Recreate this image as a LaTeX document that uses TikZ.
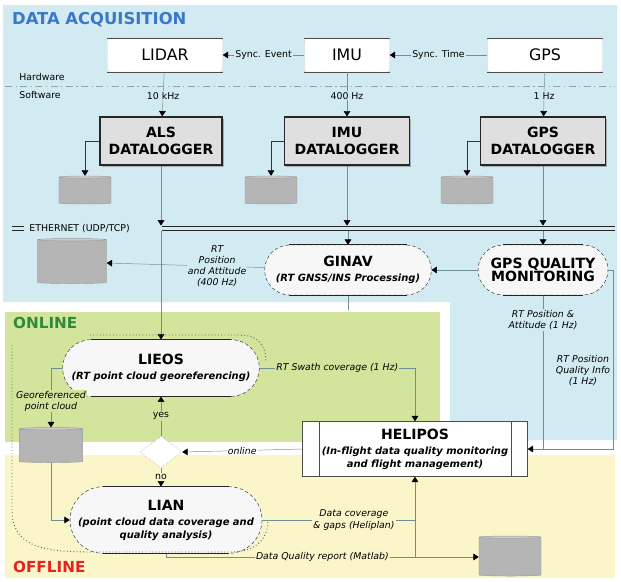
\documentclass[tikz,border=0pt]{standalone}
\usepackage{fontspec}
\setmainfont{DejaVu Sans}
\usepackage{tikz}
\usetikzlibrary{shapes.geometric, arrows.meta, positioning, shadows}

\definecolor{acqblue}{HTML}{D2EBF2}
\definecolor{onlgreen}{HTML}{D3E49C}
\definecolor{offyellow}{HTML}{FBF5CA}
\definecolor{titleblue}{HTML}{3C78C8}
\definecolor{titlegreen}{HTML}{2E8B3A}
\definecolor{titlered}{HTML}{E8221E}
\definecolor{wire}{HTML}{6F8F92}

\newcommand{\ptitle}[1]{{\fontsize{12}{14}\selectfont\upshape #1}}

\begin{document}
\begin{tikzpicture}[x=0.03cm, y=-0.03cm,
    sensor/.style={rectangle, rounded corners=2pt, draw=black!40, densely dotted, fill=white, minimum height=1.02cm, font=\fontsize{13.5}{16}\selectfont},
    logger/.style={rectangle, draw=black!85, line width=1.1pt, fill=gray!25, minimum height=1.44cm, align=center, font=\fontsize{12}{14.5}\selectfont\bfseries, drop shadow={shadow xshift=1.5pt, shadow yshift=-1.5pt, fill=black!55}},
    drum/.style={cylinder, shape border rotate=90, aspect=0.3, draw=gray!80, cylinder uses custom fill, cylinder body fill=gray!58, cylinder end fill=gray!40},
    proc/.style={rectangle, draw=black!80, densely dashed, fill=gray!6, align=center, font=\fontsize{8.5}{11}\selectfont\bfseries\itshape},
    arr/.style={-{Triangle[length=1.6mm, width=2mm, color=black]}, wire, thin},
    wireln/.style={wire, thin},
    lab/.style={text=black, font=\fontsize{8}{9.5}\selectfont\itshape, align=center, inner sep=1pt},
    tag/.style={text=black, font=\fontsize{8}{9.5}\selectfont, inner sep=1pt}
]
\useasboundingbox (0,0) rectangle (621,581);

% zones
\fill[acqblue] (3,5) -- (617,5) -- (617,440) -- (450,440) -- (450,302) -- (3,302) -- cycle;
\fill[onlgreen] (5,312) rectangle (440,442);
\fill[offyellow] (5,455) rectangle (615,578);

\node[anchor=west, text=titleblue, font=\fontsize{14}{16}\selectfont\bfseries] (acqtitle) at (8,20) {DATA ACQUISITION};
\node[anchor=west, text=titlegreen, font=\fontsize{13}{15}\selectfont\bfseries] (onltitle) at (9,323) {ONLINE};
\node[anchor=west, text=titlered, font=\fontsize{13}{15}\selectfont\bfseries] (offtitle) at (9,567) {OFFLINE};

% sensors
\node[sensor, minimum width=3.45cm] (lidar) at (165,55) {LIDAR};
\node[sensor, minimum width=2.55cm] (imu)   at (347,55) {IMU};
\node[sensor, minimum width=3.45cm] (gps)   at (545,55) {GPS};
\foreach \n in {lidar, imu, gps}
  \draw[black!70] (\n.north west) -- (\n.north east) (\n.south west) -- (\n.south east);

\draw[arr] (imu) -- (lidar) node[tag, midway, fill=acqblue] (syncev) {Sync. Event};
\draw[arr] (gps) -- (imu)   node[tag, midway, fill=acqblue] (synctm) {Sync. Time};

% hardware / software
\draw[wire!80, dash pattern=on 6pt off 3pt on 1pt off 3pt] (5,86) -- (615,86);
\node[tag, anchor=west] (hwlab) at (18,77) {Hardware};
\node[tag, anchor=west] (swlab) at (18,95) {Software};

% dataloggers
\node[logger, minimum width=3.66cm] (alsdl) at (161,141) {ALS\\DATALOGGER};
\node[logger, minimum width=3.75cm] (imudl) at (347,141) {IMU\\DATALOGGER};
\node[logger, minimum width=3.75cm] (gpsdl) at (543,141) {GPS\\DATALOGGER};

\draw[arr] (lidar) -- (alsdl) node[tag, pos=.53, fill=acqblue] (rlidar) {10 kHz};
\draw[arr] (imu)   -- (imudl) node[tag, pos=.53, fill=acqblue] (rimu) {400 Hz};
\draw[arr] (gps)   -- (gpsdl) node[tag, pos=.53, fill=acqblue] (rgps) {1 Hz};

\node[drum, minimum width=1.56cm, minimum height=0.84cm] (drumals) at (85,191) {};
\node[drum, minimum width=1.56cm, minimum height=0.84cm] (drumimu) at (271,191) {};
\node[drum, minimum width=1.56cm, minimum height=0.84cm] (drumgps) at (467,191) {};
\draw[arr, black!80] (alsdl.west) -| (drumals.north);
\draw[arr, black!80] (imudl.west) -| (drumimu.north);
\draw[arr, black!80] (gpsdl.west) -| (drumgps.north);

% ethernet bus
\coordinate (busW) at (162,228.5);
\coordinate (busE) at (615,228.5);
\draw[black!85, line width=1pt, double=acqblue, double distance=2.2pt] (busW) -- (busE);
\draw[black!85, line width=1pt, double=acqblue, double distance=2pt] (12,228.5) -- (24,228.5);
\node[tag, anchor=west] (ethlab) at (28,228.5) {ETHERNET (UDP/TCP)};

\draw[arr, shorten >=2.5pt] (alsdl.south) -- (alsdl.south |- busW);
\draw[arr, shorten >=2.5pt] (imudl.south) -- (imudl.south |- busW);
\draw[arr, shorten >=2.5pt] (gpsdl.south) -- (gpsdl.south |- busW);

% real time processing
\node[proc, rounded corners=0.75cm, minimum width=5cm, minimum height=1.5cm] (ginav) at (348,270) {\ptitle{\bfseries GINAV}\\[2pt](RT GNSS/INS Processing)};
\node[proc, rounded corners=0.75cm, minimum width=3.9cm, minimum height=1.5cm] (gpsq) at (543,270) {\ptitle{\bfseries GPS QUALITY}\\\ptitle{\bfseries MONITORING}};
\node[drum, minimum width=2.07cm, minimum height=1.35cm] (drumnav) at (72,262) {};

\draw[arr, shorten <=2.5pt] (ginav.north |- busW) -- (ginav.north);
\draw[arr, shorten <=2.5pt] (gpsq.north |- busW) -- (gpsq.north);
\draw[arr] (gpsq) -- (ginav);
\draw[arr] (ginav) -- (drumnav) node[lab, pos=.3, fill=acqblue] (navout) {RT\\Position\\and Attitude\\(400 Hz)};
\coordinate (ginavout) at (348,310);
\draw[wireln] (ginav.south) -- (ginavout);

% online
\node[proc, rounded corners=0.85cm, minimum width=5.9cm, minimum height=1.7cm] (lieos) at (161,368) {\ptitle{\bfseries LIEOS}\\[2pt](RT point cloud georeferencing)};
\node[rectangle, draw=black!70, fill=white, minimum width=6.75cm, minimum height=1.65cm, align=center, font=\fontsize{8.5}{11}\selectfont\bfseries\itshape] (helipos) at (415,449) {\ptitle{\bfseries HELIPOS}\\[2pt](In-flight data quality monitoring\\and flight management)};
\draw[black!70] ([xshift=0.51cm]helipos.north west) -- ([xshift=0.51cm]helipos.south west)
                ([xshift=-0.51cm]helipos.north east) -- ([xshift=-0.51cm]helipos.south east);
\node[diamond, draw=black!50, densely dotted, fill=white, minimum width=1.26cm, minimum height=0.96cm, inner sep=0pt] (onlq) at (161,452) {};
\node[drum, minimum width=1.9cm, minimum height=1.05cm] (drumpc) at (51,446) {};

\draw[arr, shorten <=2.5pt] (lieos.north |- busW) -- (lieos.north);
\draw[arr] (lieos.east) -| (helipos.north) node[lab, pos=.25, fill=onlgreen] (swath) {RT Swath coverage (1 Hz)};
\draw[arr] (lieos.west) -| (drumpc.north) node[lab, pos=.78, fill=onlgreen] (georef) {Georeferenced\\point cloud};
\draw[arr] (helipos.west) -- (onlq.east) node[lab, midway, fill=white] (onlans) {online};
\draw[arr] (onlq.north) -- (lieos.south) node[tag, midway, fill=onlgreen] (yesans) {yes};
\draw[arr] (gpsq.south) |- (helipos.east) node[lab, pos=.08, fill=acqblue] (gpspos) {RT Position \&\\Attitude (1 Hz)};
\coordinate (qcorner) at (613,449);
\draw[wireln] (gpsq.east) -| (qcorner) node[lab, pos=.78, xshift=-0.9cm, fill=acqblue] (gpsqual) {RT Position\\Quality Info\\(1 Hz)} -- (qcorner -| gpsq.south);

% offline
\node[proc, rounded corners=1cm, minimum width=5.76cm, minimum height=2cm] (lian) at (166,520) {\ptitle{\bfseries LIAN}\\[2pt](point cloud data coverage and\\quality analysis)};
\node[drum, minimum width=1.86cm, minimum height=1.2cm] (drumrep) at (510,557) {};

\draw[arr] (onlq.south) -- (onlq.south |- lian.north) node[tag, midway, fill=offyellow] (noans) {no};
\draw[arr] (drumpc.south) |- (lian.west);
\draw[arr] (lian.east) -| (helipos.south) node[lab, pos=.3, fill=offyellow] (gaps) {Data coverage\\\& gaps (Heliplan)};
\draw[arr] (lian.south) |- (drumrep.west) node[lab, pos=.75, fill=offyellow] (report) {Data Quality report (Matlab)};
\coordinate (hjoin) at (helipos.south |- drumrep.west);
\draw[wireln] (hjoin) -- (hjoin |- lian.east);

\foreach \n/\r in {ginav/0.75, gpsq/0.75, lieos/0.85, lian/1.0}
  \draw[black!85, line width=1.2pt] ([xshift=\r cm]\n.north west) -- ([xshift=-\r cm]\n.north east)
                                    ([xshift=\r cm]\n.south west) -- ([xshift=-\r cm]\n.south east);

% online / offline borders
\draw[black!60, dotted, thick] (90,335) -- (240,335) .. controls (258,335) and (266,345) .. (266,362);
\draw[black!60, dotted, thick] (12,345) -- (12,510) .. controls (12,545) and (40,552) .. (90,552) -- (230,552) .. controls (255,552) and (268,540) .. (268,520);
\end{tikzpicture}
\end{document}
